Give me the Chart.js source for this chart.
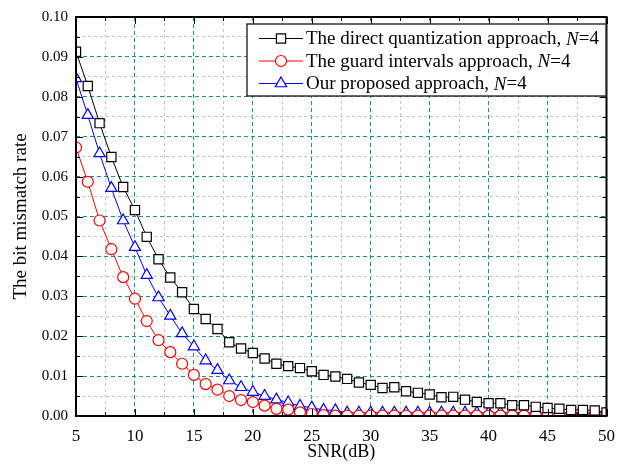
<!DOCTYPE html>
<html>
<head>
<meta charset="utf-8">
<script src="https://cdn.jsdelivr.net/npm/chart.js@4.4.1/dist/chart.umd.min.js"></script>
<style>
  html, body { margin: 0; padding: 0; background: #fff; }
  #wrap { width: 625px; height: 467px; }
</style>
</head>
<body>
<div id="wrap"><canvas id="chart" width="625" height="467"></canvas></div>
<script>
// SNR values (dB)
const snr = [];
for (let s = 5; s <= 50; s++) snr.push(s);

// bit mismatch rate
const directQuant = [0.0913, 0.0827, 0.0734, 0.0649, 0.0574, 0.0516, 0.0449, 0.0393, 0.0347, 0.0310,
  0.0268, 0.0243, 0.0218, 0.0185, 0.0169, 0.0158, 0.0144, 0.0131, 0.0125, 0.0120,
  0.0112, 0.0103, 0.0099, 0.0093, 0.0084, 0.0078, 0.0070, 0.0072, 0.0062, 0.0058,
  0.0054, 0.0047, 0.0048, 0.0041, 0.0035, 0.0032, 0.0032, 0.0027, 0.0027, 0.0023,
  0.0020, 0.0018, 0.0015, 0.0015, 0.0014, 0.0009];
const guardIntervals = [0.0673, 0.0587, 0.0490, 0.0418, 0.0348, 0.0294, 0.0238, 0.0190, 0.0160, 0.0131,
  0.0103, 0.0080, 0.0066, 0.0050, 0.0040, 0.0035, 0.0026, 0.0018, 0.0016, 0.0009,
  0.0005, 0.0002, 0.0001, 0.0001, 0.0001, 0.0001, 0.0001, 0.0001, 0.0001, 0.0001,
  0.0001, 0.0001, 0.0001, 0.0001, 0.0001, 0.0001, 0.0001, 0.0001, 0.0001, 0.0001,
  0.0001, 0.0001, 0.0001, 0.0001, 0.0001, 0.0001];
const proposed = [0.0846, 0.0754, 0.0658, 0.0571, 0.0490, 0.0423, 0.0353, 0.0297, 0.0251, 0.0207,
  0.0174, 0.0139, 0.0115, 0.0089, 0.0072, 0.0060, 0.0050, 0.0041, 0.0034, 0.0025,
  0.0021, 0.0015, 0.0014, 0.0008, 0.0008, 0.0008, 0.0008, 0.0008, 0.0008, 0.0008,
  0.0008, 0.0008, 0.0008, 0.0008, 0.0008, 0.0008, 0.0008, 0.0008, 0.0008, 0.0008,
  0.0008, 0.0008, 0.0008, 0.0008, 0.0008, 0.0008];

const seriesNames = ['The direct quantization approach, ', 'The guard intervals approach, ', 'Our proposed approach, '];
const xTitle = 'SNR(dB)';
const yTitle = 'The bit mismatch rate';

const serif = '"Liberation Serif", "Times New Roman", serif';
const teal = '#1a8f8f';
const lightGray = '#c4c4c4';

function toPoints(vals) {
  return vals.map((v, i) => ({ x: snr[i], y: v }));
}

function isMajor(v, step) {
  const r = v / step;
  return Math.abs(r - Math.round(r)) < 1e-6;
}

// frame, inward ticks and legend box
const framePlugin = {
  id: 'frame',
  afterDraw(chart) {
    const ctx = chart.ctx;
    const a = chart.chartArea;
    const xs = chart.scales.x, ys = chart.scales.y;
    ctx.save();
    ctx.strokeStyle = '#000';
    ctx.lineWidth = 1;
    ctx.beginPath();
    xs.ticks.forEach(t => {
      const px = Math.round(xs.getPixelForValue(t.value)) + 0.5;
      const len = isMajor(t.value, 5) ? 7 : 4;
      ctx.moveTo(px, a.bottom); ctx.lineTo(px, a.bottom - len);
      ctx.moveTo(px, a.top); ctx.lineTo(px, a.top + len);
    });
    ys.ticks.forEach(t => {
      const py = Math.round(ys.getPixelForValue(t.value)) + 0.5;
      const len = isMajor(t.value, 0.01) ? 7 : 4;
      ctx.moveTo(a.left, py); ctx.lineTo(a.left + len, py);
      ctx.moveTo(a.right, py); ctx.lineTo(a.right - len, py);
    });
    ctx.stroke();
    ctx.lineWidth = 2;
    ctx.strokeRect(a.left, a.top, a.right - a.left, a.bottom - a.top);

    // legend
    const bx = 247, by = 24, bw = 359, bh = 72;
    ctx.fillStyle = '#fff';
    ctx.fillRect(bx, by, bw, bh);
    ctx.lineWidth = 1.5;
    ctx.strokeStyle = '#333';
    ctx.strokeRect(bx, by, bw, bh);
    chart.data.datasets.forEach((ds, i) => {
      const cy = by + 14.5 + i * 22.5;
      ctx.strokeStyle = ds.borderColor;
      ctx.lineWidth = 1;
      ctx.beginPath();
      ctx.moveTo(259, cy); ctx.lineTo(303, cy);
      ctx.stroke();
      ctx.fillStyle = '#fff';
      ctx.lineWidth = 1.2;
      Chart.helpers.drawPoint(ctx, {
        pointStyle: ds.pointStyle, radius: ds.pointRadius, borderWidth: 1.2
      }, 281, cy);
      ctx.fillStyle = '#000';
      ctx.textBaseline = 'middle';
      ctx.font = '19px ' + serif;
      const name = seriesNames[i];
      ctx.fillText(name, 306, cy + 1);
      let w = ctx.measureText(name).width;
      ctx.font = 'italic 19px ' + serif;
      ctx.fillText('N', 306 + w, cy + 1);
      w += ctx.measureText('N').width;
      ctx.font = '19px ' + serif;
      ctx.fillText('=4', 306 + w, cy + 1);
    });
    ctx.restore();
  }
};

const ctx = document.getElementById('chart').getContext('2d');
new Chart(ctx, {
  type: 'line',
  data: {
    datasets: [
      {
        label: seriesNames[0] + 'N=4',
        data: toPoints(directQuant),
        borderColor: '#000',
        backgroundColor: '#fff',
        pointStyle: 'rect',
        pointRadius: 6.5,
        pointBorderWidth: 1.2,
        borderWidth: 1
      },
      {
        label: seriesNames[1] + 'N=4',
        data: toPoints(guardIntervals),
        borderColor: '#ff0000',
        backgroundColor: '#fff',
        pointStyle: 'circle',
        pointRadius: 5.5,
        pointBorderWidth: 1.2,
        borderWidth: 1
      },
      {
        label: seriesNames[2] + 'N=4',
        data: toPoints(proposed),
        borderColor: '#0000ff',
        backgroundColor: '#fff',
        pointStyle: 'triangle',
        pointRadius: 6.5,
        pointBorderWidth: 1.2,
        borderWidth: 1
      }
    ]
  },
  options: {
    responsive: false,
    animation: false,
    layout: { padding: { top: 17, right: 9, left: 0, bottom: 0 } },
    plugins: {
      legend: { display: false },
      tooltip: { enabled: false }
    },
    scales: {
      x: {
        type: 'linear',
        min: 5,
        max: 50,
        afterFit(scale) { scale.height = 51; },
        ticks: {
          stepSize: 2.5,
          autoSkip: false,
          maxRotation: 0,
          padding: 10,
          color: '#000',
          font: { family: serif, size: 17 },
          callback: v => isMajor(v, 5) ? String(v) : ''
        },
        grid: {
          drawTicks: false,
          color: c => isMajor(c.tick.value, 5) ? teal : lightGray,
          lineWidth: 1
        },
        border: { display: false, dash: c => isMajor(c.tick.value, 5) ? [4, 3] : [3, 3] },
        title: {
          display: true,
          text: xTitle,
          color: '#000',
          font: { family: serif, size: 18 },
          padding: { top: 0, bottom: 4 }
        }
      },
      y: {
        type: 'linear',
        min: 0,
        max: 0.1,
        afterFit(scale) { scale.width = 76; },
        ticks: {
          stepSize: 0.005,
          autoSkip: false,
          padding: 8,
          color: '#000',
          font: { family: serif, size: 15 },
          callback: v => isMajor(v, 0.01) ? v.toFixed(2) : ''
        },
        grid: {
          drawTicks: false,
          color: c => isMajor(c.tick.value, 0.01) ? teal : lightGray,
          lineWidth: 1
        },
        border: { display: false, dash: c => isMajor(c.tick.value, 0.01) ? [4, 3] : [3, 3] },
        title: {
          display: true,
          text: yTitle,
          color: '#000',
          font: { family: serif, size: 19 },
          padding: { top: 10, bottom: 0 }
        }
      }
    }
  },
  plugins: [framePlugin]
});
</script>
</body>
</html>
